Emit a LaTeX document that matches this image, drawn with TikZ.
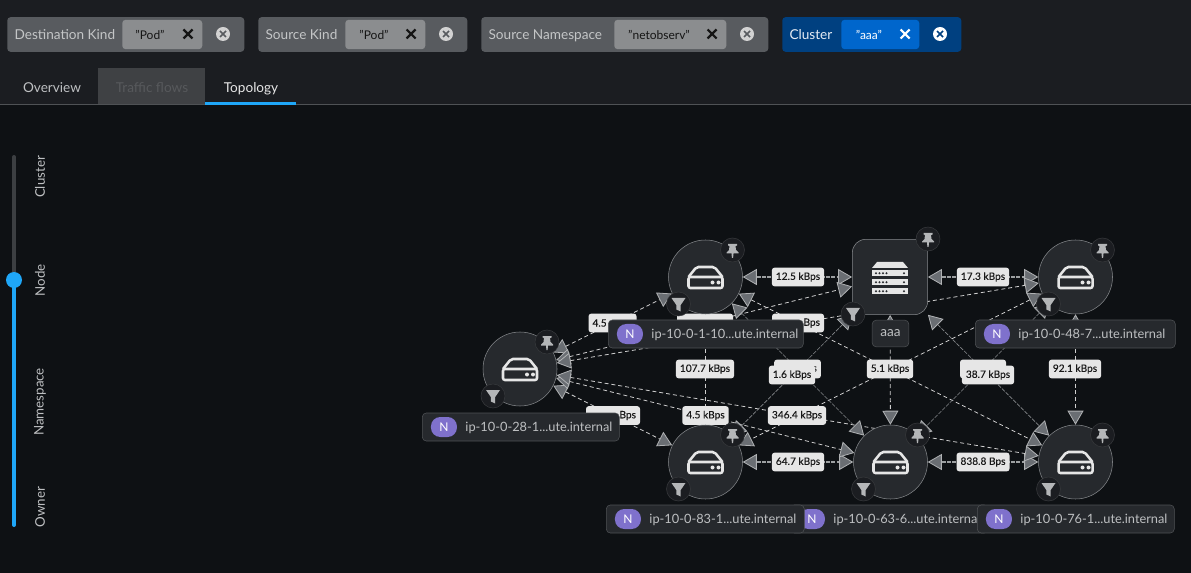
\documentclass[tikz,border=0pt]{standalone}
\usepackage{fontspec}
\setmainfont{Lato}
\newfontfamily\ratefont[FakeBold=0.25]{Lato}
\usetikzlibrary{arrows.meta,positioning}

\definecolor{pagetop}{HTML}{1B1D21}
\definecolor{pagelow}{HTML}{0E1114}
\definecolor{ruleline}{HTML}{4F5255}
\definecolor{flowblue}{HTML}{1FA7F8}
\definecolor{softink}{HTML}{BEC0C2}
\definecolor{nodefill}{HTML}{26292D}
\definecolor{nodeline}{HTML}{85888B}
\definecolor{iconink}{HTML}{E6E6E6}
\definecolor{badgeink}{HTML}{B4B6B8}
\definecolor{tipfill}{HTML}{6A6E73}
\definecolor{tipline}{HTML}{B0B2B4}
\definecolor{ratefill}{HTML}{E6E6E6}
\definecolor{pillfill}{HTML}{7F71CC}
\definecolor{tabfill}{HTML}{3F4144}
\definecolor{tabdim}{HTML}{57595C}
\definecolor{trackgray}{HTML}{3C3F42}
% filter chip colours, grey set
\definecolor{chipshell}{HTML}{585B5F}
\definecolor{chipinner}{HTML}{8B8D8F}
\definecolor{chiptext}{HTML}{C4C6C7}
\definecolor{chipink}{HTML}{151515}
\definecolor{chipdot}{HTML}{D2D2D2}

\pgfdeclarelayer{backdrop}
\pgfdeclarelayer{flows}
\pgfsetlayers{backdrop,flows,main}

\tikzset{
  every picture/.style={line width=0.75pt},
  every pic/.style={yscale=-1},
  hostnode/.style={circle,draw=nodeline,fill=nodefill,inner sep=0pt,minimum size=55.5pt},
  rackbox/.style={rectangle,rounded corners=10pt,draw=nodeline,fill=nodefill,inner sep=0pt,minimum size=56.5pt},
  badge/.style={circle,draw=ruleline!70!black,fill=pagetop,inner sep=0pt,minimum size=18pt},
  flowtips/.style={>={Triangle[length=10.5pt,width=12pt,color=tipline,fill=tipfill,line width=0.6pt]},<->},
  edgeflow/.style={flowtips,draw=iconink!90!black,dash pattern=on 3pt off 2.2pt,line width=0.6pt},
  edgedim/.style={flowtips,draw=nodeline,dash pattern=on 3pt off 1pt,line width=0.5pt},
  edgewide/.style={flowtips,draw=nodeline!80!white,dash pattern=on 3pt off 1pt,line width=1.5pt},
  rate/.style={fill=ratefill,text=black!90,rounded corners=2pt,inner xsep=3pt,inner ysep=0pt,minimum height=14pt,font=\ratefont\fontsize{7.6}{10}\selectfont},
  ratecut/.style={rate,inner xsep=3pt,text width=#1},
  boxtext/.style={inner sep=0pt,text height=9pt,text depth=2.2pt},
  tagbox/.style={draw=ruleline,fill=nodefill,rounded corners=3pt,inner sep=0pt,minimum height=21pt,anchor=west},
  tagpill/.style={fill=pillfill,text=white,rounded corners=7pt,inner sep=0pt,minimum width=19.5pt,minimum height=15pt,font=\fontsize{9}{10}\selectfont},
  tagtext/.style={boxtext,text=softink,font=\fontsize{9.6}{12}\selectfont},
  chipbody/.style={fill=chipshell,rounded corners=2.5pt,inner sep=0pt,minimum height=26pt,anchor=west},
  chipcore/.style={fill=chipinner,rounded corners=2.5pt,inner sep=0pt,minimum height=22pt,anchor=west},
  chiplabel/.style={boxtext,text=chiptext,font=\fontsize{10.2}{12}\selectfont},
  chipvalue/.style={inner sep=0pt,text=chipink,font=\fontsize{9}{11}\selectfont},
  tablabel/.style={boxtext,font=\fontsize{10.2}{12}\selectfont},
  scalelabel/.style={rotate=90,text=softink,inner sep=0pt,font=\fontsize{10}{12}\selectfont},
  hosticon/.pic={
    \draw[iconink,line width=1.9pt,rounded corners=1.5pt] (-17,0) -- (-9,-10) -- (9,-10) -- (17,0);
    \draw[iconink,line width=1.9pt,rounded corners=1.5pt] (-17,0) rectangle (17,11);
    \fill[iconink] (7,5.5) circle (2) (13,5.5) circle (2);
  },
  rackicon/.pic={
    \fill[iconink] (-13,-15) -- (13,-15) -- (18,-9) -- (-18,-9) -- cycle;
    \foreach \y in {-7,2,11}{
      \fill[iconink] (-18,\y) rectangle (18,\y+6.5);
      \foreach \x in {-14,-10.5,-7,-3.5,14}
        \fill[nodefill] (\x,\y+3.2) circle (1.1);
    }
  },
  pinicon/.pic={
    \fill[badgeink] (-4.5,-6) -- (4.5,-6) -- (4.5,-4.5) -- (3,-4) -- (3.5,0) -- (6,2.5) -- (6,3.5) -- (1,3.5) -- (0.6,8) -- (-0.6,8) -- (-1,3.5) -- (-6,3.5) -- (-6,2.5) -- (-3.5,0) -- (-3,-4) -- (-4.5,-4.5) -- cycle;
  },
  filtericon/.pic={
    \fill[badgeink] (-7,-6) -- (7,-6) -- (2.2,1) -- (2.2,7.5) -- (-2.2,5.5) -- (-2.2,1) -- cycle;
  },
}

% one filter group of the top bar
\newcommand{\filtergroup}[6]{
  \node[chipbody,minimum width=#3*0.75pt] (#1) at (#2,34.5) {};
  \node[chiplabel,right=5.5pt of #1.west] (#1label) {#4};
  \node[chipcore,minimum width=#6*0.75pt] (#1core) at (#5,34.5) {};
}
\newcommand{\filtervalue}[5]{
  \node[chipvalue] (#1value) at (#3,34.5) {#2};
  \draw[chipink,line width=1.6pt] (#4-4.5,29.5) -- (#4+4.5,38.5) (#4+4.5,29.5) -- (#4-4.5,38.5);
  \node[circle,fill=chipdot,inner sep=0pt,minimum size=10.5pt] (#1close) at (#5,34) {};
  \draw[chipshell,line width=1.3pt] (#5-3,31) -- (#5+3,37) (#5+3,31) -- (#5-3,37);
}
% hostname tag below a node
\newcommand{\hosttag}[5]{
  \node[tagbox,minimum width=#4*0.75pt] (#1tag) at (#2,#3) {};
  \node[tagpill,right=6.5pt of #1tag.west] (#1pill) {N};
  \node[tagtext,right=6pt of #1pill] (#1name) {#5};
}

\begin{document}
\begin{tikzpicture}[x=0.75pt,y=0.75pt,yscale=-1,xscale=1]
\useasboundingbox (0,0) rectangle (1191,573);

\begin{pgfonlayer}{backdrop}
\fill[pagelow] (0,0) rectangle (1191,573);
\fill[pagetop] (0,0) rectangle (1191,104);
\draw[ruleline] (0,104.5) -- (1191,104.5);
\end{pgfonlayer}

%filter groups
\filtergroup{destkind}{7}{237}{Destination Kind}{122}{80}
\filtervalue{destkind}{"Pod"}{150}{188}{223}
\filtergroup{srckind}{258}{209}{Source Kind}{345}{80}
\filtervalue{srckind}{"Pod"}{374}{411}{446}
\filtergroup{srcns}{481}{287}{Source Namespace}{614}{112}
\filtervalue{srcns}{"netobserv"}{659}{712}{747}
\definecolor{chipshell}{HTML}{004080}
\definecolor{chipinner}{HTML}{0066CC}
\definecolor{chiptext}{HTML}{E6ECF4}
\definecolor{chipink}{HTML}{FFFFFF}
\definecolor{chipdot}{HTML}{FFFFFF}
\filtergroup{cluster}{782}{179}{Cluster}{841}{78}
\filtervalue{cluster}{"aaa"}{869}{905}{940}

%tabs
\fill[tabfill] (98,68) rectangle (205,104);
\fill[flowblue] (205,102) rectangle (296,105);
\node[tablabel,text=softink] (overview) at (52,87.5) {Overview};
\node[tablabel,text=tabdim] (traffic) at (152,87.5) {Traffic flows};
\node[tablabel,text=iconink] (topology) at (251,87.5) {Topology};

%scale slider
\draw[trackgray,line width=3pt,line cap=round] (14,157) -- (14,280);
\draw[flowblue,line width=3pt,line cap=round] (14,280) -- (14,525);
\node[circle,fill=flowblue,inner sep=0pt,minimum size=12pt] (knob) at (14,280) {};
\node[scalelabel] (lcluster) at (40,177) {Cluster};
\node[scalelabel] (lnode) at (40,280) {Node};
\node[scalelabel] (lnamespace) at (40,402) {Namespace};
\node[scalelabel] (lowner) at (40,507) {Owner};

%nodes
\node[hostnode] (n28) at (520,369) {};
\node[hostnode] (n1) at (705.5,277) {};
\node[rackbox] (aaa) at (890,277) {};
\node[hostnode] (n48) at (1075.5,277) {};
\node[hostnode] (n83) at (705.5,462) {};
\node[hostnode] (n63) at (890.5,462) {};
\node[hostnode] (n76) at (1075.5,462) {};

\foreach \n in {n28,n1,n48,n83,n63,n76}
  \pic at (\n) {hosticon};
\pic at (aaa) {rackicon};

%connectors
\begin{pgfonlayer}{flows}
\foreach \a/\b/\kind in {n1/aaa/edgewide,aaa/n48/edgewide,n83/n63/edgewide,n63/n76/edgewide,
  n28/n1/edgeflow,n28/aaa/edgeflow,n28/n48/edgeflow,n28/n83/edgeflow,n28/n63/edgeflow,n28/n76/edgeflow,
  n1/n83/edgeflow,n1/n76/edgeflow,aaa/n63/edgeflow,n48/n83/edgeflow,n48/n76/edgeflow,
  n1/n63/edgedim,aaa/n83/edgedim,aaa/n76/edgedim,n48/n63/edgedim}
  \draw[\kind] (\a) -- (\b);

%rates, some sit under others or under a tag
\node[rate] (r1) at (798,277) {12.5 kBps};
\node[rate] (r2) at (983,277) {17.3 kBps};
\node[ratecut=30pt,align=left] (r3) at (612.5,323) {4.5};
\node[ratecut=36pt] (r4) at (705,323) {};
\node[ratecut=33pt,align=right] (r5) at (798,323) {Bps};
\node[ratecut=34.5pt,align=right] (r6) at (613,415.5) {Bps};
\node[rate] (r7) at (705.5,415.5) {4.5 kBps};
\node[rate] (r8) at (797,415.5) {346.4 kBps};
\node[rate] (r9) at (705,369) {107.7 kBps};
\node[ratecut=29pt,align=right] (r10) at (797.5,369) {s};
\node[rate] (r11) at (792,375) {1.6 kBps};
\node[rate] (r12) at (890,369) {5.1 kBps};
\node[ratecut=28.5pt] (r13) at (983,369) {};
\node[rate] (r14) at (988,375) {38.7 kBps};
\node[rate] (r15) at (1075,369) {92.1 kBps};
\node[rate] (r16) at (798,462) {64.7 kBps};
\node[rate] (r17) at (983,462) {838.8 Bps};
\end{pgfonlayer}

%badges
\foreach \n in {n28,n1,n48,n83,n63,n76}{
  \node[badge] (\n pin) at ([shift={(27,-27)}]\n.center) {};
  \pic at (\n pin) {pinicon};
  \node[badge] (\n filter) at ([shift={(-27,27)}]\n.center) {};
  \pic at (\n filter) {filtericon};
}
\node[badge] (aaapin) at ([shift={(38,-38)}]aaa.center) {};
\pic at (aaapin) {pinicon};
\node[badge] (aaafilter) at ([shift={(-37,37)}]aaa.center) {};
\pic at (aaafilter) {filtericon};

%tags
\node[draw=ruleline,fill=nodefill,rounded corners=3pt,text=softink,minimum width=27.5pt,minimum height=20pt,inner sep=0pt,font=\fontsize{10.2}{12}\selectfont] (aaatag) at (890.5,333.5) {aaa};
\hosttag{n1}{608}{334}{195}{ip-10-0-1-10...ute.internal}
\hosttag{n48}{975}{334}{200}{ip-10-0-48-7...ute.internal}
\hosttag{n28}{422}{427}{197}{ip-10-0-28-1...ute.internal}
\hosttag{n63}{790}{519}{198}{ip-10-0-63-6...ute.internal}
\hosttag{n83}{606}{519}{198}{ip-10-0-83-1...ute.internal}
\hosttag{n76}{977}{519}{197}{ip-10-0-76-1...ute.internal}
\end{tikzpicture}
\end{document}
